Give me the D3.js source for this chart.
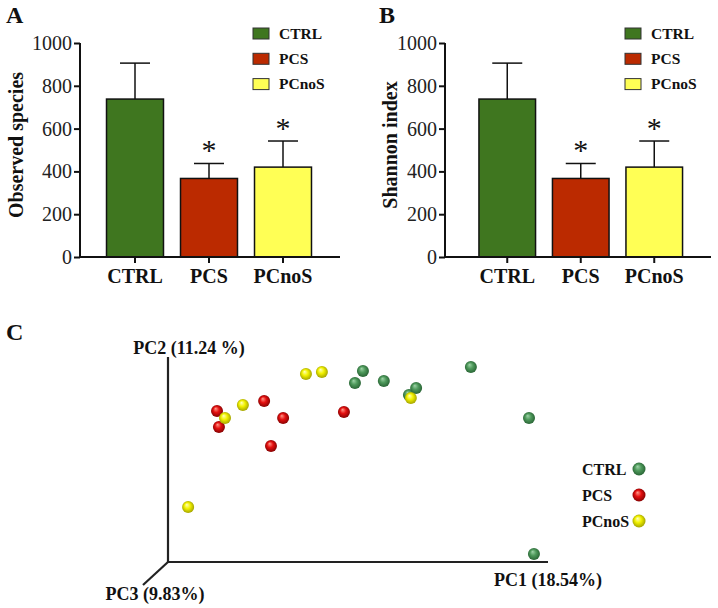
<!DOCTYPE html>
<html><head><meta charset="utf-8">
<script src="https://cdn.jsdelivr.net/npm/d3@7"></script>
<style>
html,body{margin:0;padding:0;background:#fff;}
svg{display:block;font-family:"Liberation Serif","Times New Roman",serif;}
</style></head>
<body>
<svg id="c" width="718" height="608"></svg>
<script>
// ---- data ----
const categories = ["CTRL", "PCS", "PCnoS"];
const colors = ["#3f761f", "#bb2a00", "#ffff55"];
const observedMean = [738, 367, 420];
const observedUpper = [906, 437, 542];
const shannonMean = [738, 367, 420];
const shannonUpper = [906, 437, 542];
const significant = [false, true, true];
const yTicks = [0, 200, 400, 600, 800, 1000];

// PCoA (projected PC1 / PC2 positions, arbitrary units 0-100 along drawn axes)
const ctrlPC1 = [49.2, 51.3, 56.8, 63.4, 65.3, 79.7, 95.0, 96.3];
const ctrlPC2 = [87.3, 93.2, 88.3, 81.5, 84.9, 95.1, 70.2, 3.9];
const pcsPC1 = [12.9, 25.3, 13.4, 30.3, 27.1, 46.3];
const pcsPC2 = [73.7, 78.5, 65.9, 70.2, 56.6, 73.2];
const pcnosPC1 = [36.3, 40.5, 19.7, 15.0, 5.3, 63.9];
const pcnosPC2 = [91.7, 92.7, 76.6, 70.2, 26.8, 80.0];
const pcLabels = ["PC1 (18.54%)", "PC2 (11.24 %)", "PC3 (9.83%)"];
const sphereColors = [
  ["#9fd3a8", "#4f9a5c", "#245e30"],
  ["#ff9a8a", "#e51010", "#7a0000"],
  ["#ffffc0", "#f2f200", "#9a9a00"]
];

const svg = d3.select("#c");

function barPanel(opt) {
  const g = svg.append("g");
  const y = d3.scaleLinear().domain([0, 1000]).range([257, 43]);
  const x = d3.scaleBand().domain(categories).range(opt.xr).paddingInner(0.23).paddingOuter(0.115);
  // bars
  g.selectAll("rect.bar").data(categories).enter().append("rect")
    .attr("x", d => x(d)).attr("width", x.bandwidth())
    .attr("y", (d, i) => y(opt.mean[i])).attr("height", (d, i) => y(0) - y(opt.mean[i]))
    .attr("fill", (d, i) => colors[i]).attr("stroke", "#111").attr("stroke-width", 1.5);
  // error bars
  const capW = 30;
  categories.forEach((d, i) => {
    const cx = x(d) + x.bandwidth() / 2;
    g.append("line").attr("x1", cx).attr("x2", cx).attr("y1", y(opt.mean[i])).attr("y2", y(opt.upper[i]))
      .attr("stroke", "#111").attr("stroke-width", 1.5);
    g.append("line").attr("x1", cx - capW / 2).attr("x2", cx + capW / 2).attr("y1", y(opt.upper[i])).attr("y2", y(opt.upper[i]))
      .attr("stroke", "#111").attr("stroke-width", 1.5);
    if (significant[i]) {
      g.append("text").attr("x", cx).attr("y", y(opt.upper[i]) - 3).attr("text-anchor", "middle")
        .attr("font-size", 30).attr("fill", "#111").text("*");
    }
  });
  // y axis
  const ya = g.append("g").attr("transform", `translate(${opt.x0},0)`)
    .call(d3.axisLeft(y).tickValues(yTicks).tickSize(6).tickPadding(2).tickFormat(d3.format("d")));
  ya.select(".domain").attr("stroke", "#111").attr("stroke-width", 2).attr("d", `M0,${y(0)}V${y(1000)}`);
  ya.selectAll(".tick line").attr("stroke", "#111").attr("stroke-width", 2);
  ya.selectAll(".tick text").attr("font-family", "Liberation Serif").attr("font-size", 20).attr("fill", "#222");
  // x axis
  const xa = g.append("g").attr("transform", `translate(0,${y(0)})`)
    .call(d3.axisBottom(x).tickSize(6).tickPadding(6));
  xa.select(".domain").attr("stroke", "#111").attr("stroke-width", 2).attr("d", `M${opt.x0},0H${opt.xEnd}`);
  xa.selectAll(".tick line").attr("stroke", "#111").attr("stroke-width", 2);
  xa.selectAll(".tick text").attr("font-family", "Liberation Serif").attr("font-size", 20)
    .attr("font-weight", "bold").attr("fill", "#111");
  // y label
  g.append("text").attr("transform", `translate(${opt.ylx},145) rotate(-90)`).attr("text-anchor", "middle")
    .attr("font-size", 20).attr("font-weight", "bold").attr("fill", "#111").text(opt.ylabel);
  // panel letter
  g.append("text").attr("x", opt.letterX).attr("y", 23).attr("font-size", 24).attr("font-weight", "bold")
    .attr("fill", "#111").text(opt.letter);
  // legend
  const lg = g.append("g");
  categories.forEach((d, i) => {
    lg.append("rect").attr("x", opt.legX).attr("y", 28 + i * 25.3).attr("width", 16).attr("height", 11)
      .attr("fill", colors[i]).attr("stroke", "#333").attr("stroke-width", 1);
    lg.append("text").attr("x", opt.legX + 26).attr("y", 38.5 + i * 25.3).attr("font-size", 15.5)
      .attr("font-weight", "bold").attr("fill", "#111").text(d);
  });
}

barPanel({xr: [98, 320], x0: 80, xEnd: 340, mean: observedMean, upper: observedUpper,
  ylabel: "Observed species", ylx: 23, letter: "A", letterX: 6, legX: 253});
barPanel({xr: [470.5, 691], x0: 445, xEnd: 711, mean: shannonMean, upper: shannonUpper,
  ylabel: "Shannon index", ylx: 397, letter: "B", letterX: 379, legX: 625});

// ---- Panel C: PCoA ----
const defs = svg.append("defs");
sphereColors.forEach((c, i) => {
  const gr = defs.append("radialGradient").attr("id", "sph" + i).attr("cx", "50%").attr("cy", "50%")
    .attr("r", "55%").attr("fx", "38%").attr("fy", "30%");
  gr.append("stop").attr("offset", "0%").attr("stop-color", c[0]);
  gr.append("stop").attr("offset", "45%").attr("stop-color", c[1]);
  gr.append("stop").attr("offset", "100%").attr("stop-color", c[2]);
});

const px = d3.scaleLinear().domain([0, 100]).range([168, 548]);
const py = d3.scaleLinear().domain([0, 100]).range([562, 357]);
const c = svg.append("g");
c.append("text").attr("x", 6).attr("y", 340).attr("font-size", 24).attr("font-weight", "bold").attr("fill", "#111").text("C");
// axes
c.append("path").attr("d", `M${px(0)},${py(100)}V${py(0)}H${px(100)}`).attr("fill", "none")
  .attr("stroke", "#222").attr("stroke-width", 2.2);
c.append("line").attr("x1", px(0)).attr("y1", py(0)).attr("x2", px(0) - 25).attr("y2", py(0) + 23)
  .attr("stroke", "#222").attr("stroke-width", 2.2);
c.append("text").attr("x", 189).attr("y", 354).attr("text-anchor", "middle").attr("font-size", 18)
  .attr("font-weight", "bold").attr("fill", "#111").text(pcLabels[1]);
c.append("text").attr("x", 155).attr("y", 600).attr("text-anchor", "middle").attr("font-size", 18)
  .attr("font-weight", "bold").attr("fill", "#111").text(pcLabels[2]);
c.append("text").attr("x", 548).attr("y", 586).attr("text-anchor", "middle").attr("font-size", 18)
  .attr("font-weight", "bold").attr("fill", "#111").text(pcLabels[0]);

const groups = [[ctrlPC1, ctrlPC2], [pcsPC1, pcsPC2], [pcnosPC1, pcnosPC2]];
groups.forEach((gd, gi) => {
  c.selectAll(null).data(gd[0]).enter().append("circle")
    .attr("cx", d => px(d)).attr("cy", (d, i) => py(gd[1][i])).attr("r", 6)
    .attr("fill", `url(#sph${gi})`);
});
// legend
categories.forEach((d, i) => {
  c.append("text").attr("x", 582).attr("y", 475 + i * 26).attr("font-size", 16).attr("font-weight", "bold")
    .attr("fill", "#111").text(d);
  c.append("circle").attr("cx", 639).attr("cy", 469 + i * 26).attr("r", 6.5).attr("fill", `url(#sph${i})`);
});
</script>
</body></html>
